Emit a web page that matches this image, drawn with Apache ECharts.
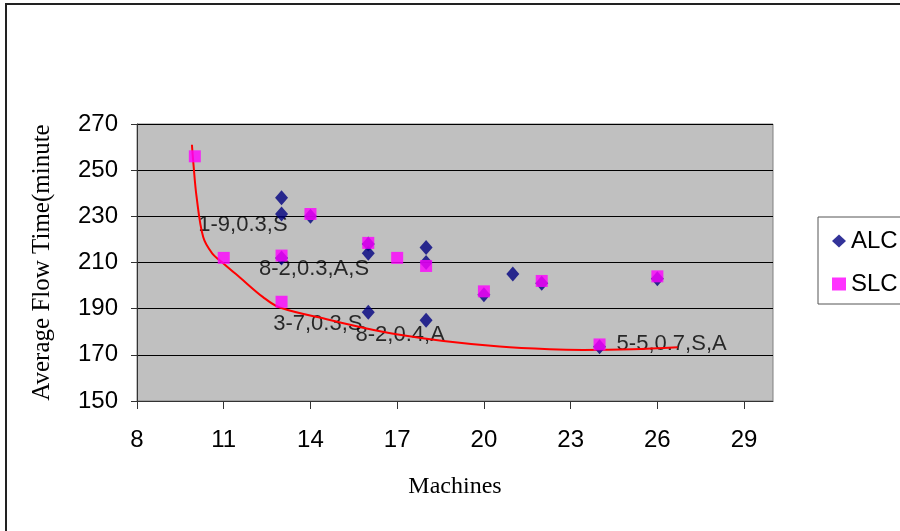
<!DOCTYPE html>
<html>
<head>
<meta charset="utf-8">
<script src="https://cdn.jsdelivr.net/npm/echarts@6/dist/echarts.min.js"></script>
<style>
html,body{margin:0;padding:0;background:#fff;}
#chart{width:900px;height:531px;}
</style>
</head>
<body>
<div id="chart"></div>
<script>
// ---- data ----
var alcX = [13, 13, 13, 14, 16, 16, 16, 18, 18, 18, 20, 21, 22, 24, 26];
var alcY = [238, 231, 212, 230, 218, 214, 188.5, 216.5, 210, 185, 196, 205, 201, 173.5, 203];
var slcX = [10, 11, 13, 13, 14, 16, 17, 18, 20, 22, 24, 26];
var slcY = [256, 212, 213, 193, 231, 218.5, 212, 208.5, 197.5, 202, 174.5, 204];
var curveX = [9.9, 9.95, 10.06, 10.29, 10.6, 11.0, 11.56, 12.36, 12.94, 14.67, 15.82, 16.97, 18.6, 20.54, 22.27, 23.42, 25.14, 26.7];
var curveY = [261, 253, 238.5, 221, 214, 209.5, 203.5, 195, 190.5, 185.1, 181.7, 178.9, 176, 173.6, 172.4, 172.1, 172.4, 173.3];
var labelText = ['1-9,0.3,S', '8-2,0.3,A,S', '3-7,0.3,S', '8-2,0.4,A', '5-5,0.7,S,A'];
var labelX = [10.12, 12.22, 12.71, 15.56, 24.59];
var labelY = [226.3, 207.1, 183.2, 178.6, 174.6];
var xTicks = [8, 11, 14, 17, 20, 23, 26, 29];
var yTicks = [150, 170, 190, 210, 230, 250, 270];
var seriesNames = ['ALC', 'SLC'];
var xTitle = 'Machines';
var yTitle = 'Average Flow Time(minutes)';

function pairs(xs, ys) { return xs.map(function (x, i) { return [x, ys[i]]; }); }

var SANS = '"Liberation Sans", Arial, sans-serif';
var SERIF = '"Liberation Serif", "Times New Roman", serif';

var chart = echarts.init(document.getElementById('chart'), null, {renderer: 'canvas'});
chart.setOption({
  animation: false,
  backgroundColor: '#ffffff',
  graphic: [{
    type: 'rect', z: -10, silent: true,
    shape: {x: 6, y: 4, width: 1000, height: 1000},
    style: {fill: null, stroke: '#222', lineWidth: 2}
  }],
  grid: {
    left: 137, right: 127, top: 124, bottom: 130,
    show: true, backgroundColor: '#c0c0c0', borderColor: '#808080', borderWidth: 1
  },
  legend: {
    orient: 'vertical', left: 818, top: 217,
    data: seriesNames,
    padding: [12, 40, 8, 14],
    itemGap: 19, itemWidth: 14, itemHeight: 13,
    borderColor: '#555', borderWidth: 1, backgroundColor: '#fff',
    textStyle: {fontFamily: SANS, fontSize: 24, color: '#000'}
  },
  xAxis: {
    type: 'value', min: 8, max: 30,
    name: xTitle, nameLocation: 'middle', nameGap: 74,
    nameTextStyle: {fontFamily: SERIF, fontSize: 24, color: '#000'},
    axisLine: {show: true, onZero: false, lineStyle: {color: '#333', width: 1}},
    axisTick: {show: true, length: 8, customValues: xTicks, lineStyle: {color: '#333'}},
    axisLabel: {customValues: xTicks, margin: 27, fontFamily: SANS, fontSize: 24, color: '#000'},
    splitLine: {show: false}
  },
  yAxis: {
    type: 'value', min: 150, max: 270,
    name: yTitle, nameLocation: 'middle', nameGap: 82, nameRotate: 90,
    nameTruncate: {maxWidth: 284, ellipsis: ''},
    nameTextStyle: {fontFamily: SERIF, fontSize: 25, color: '#000'},
    axisLine: {show: true, onZero: false, lineStyle: {color: '#333', width: 1}},
    axisTick: {show: true, length: 6, customValues: yTicks, lineStyle: {color: '#333'}},
    axisLabel: {customValues: yTicks, margin: 19, fontFamily: SANS, fontSize: 24, color: '#000'},
    splitLine: {show: true, lineStyle: {color: '#000', width: 1}}
  },
  series: [
    {
      name: 'labels', type: 'scatter', z: 1, silent: true,
      symbolSize: 0,
      data: labelText.map(function (t, i) { return {name: t, value: [labelX[i], labelY[i]]}; }),
      label: {show: true, position: 'right', distance: 0, formatter: '{b}',
              fontFamily: SANS, fontSize: 22, color: '#000'}
    },
    {
      name: 'curve', type: 'line', z: 3, silent: true,
      data: pairs(curveX, curveY), symbol: 'none',
      smooth: 0.35,
      lineStyle: {color: '#ff0000', width: 2}
    },
    {
      name: 'ALC', type: 'scatter', z: 4,
      symbol: 'diamond', symbolSize: [13, 15],
      itemStyle: {color: '#000080'},
      data: pairs(alcX, alcY)
    },
    {
      name: 'SLC', type: 'scatter', z: 5,
      symbol: 'rect', symbolSize: 12,
      itemStyle: {color: '#ff00ff'},
      data: pairs(slcX, slcY)
    }
  ]
});
</script>
</body>
</html>
